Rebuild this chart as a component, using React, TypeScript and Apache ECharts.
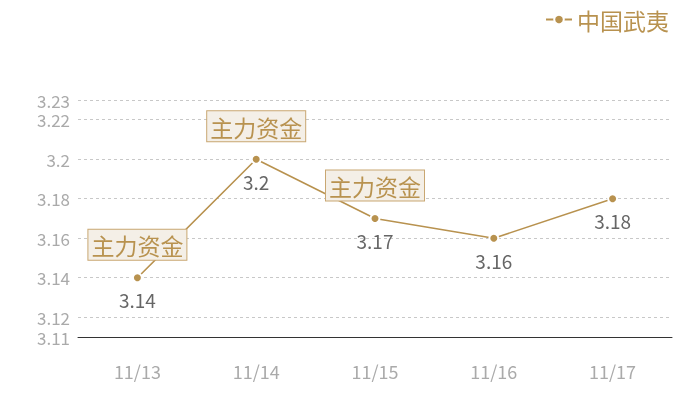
import { useEffect, useRef } from 'react';
import * as echarts from 'echarts';

const categories = ['11/13', '11/14', '11/15', '11/16', '11/17'];
const values = [3.14, 3.2, 3.17, 3.16, 3.18];
const seriesName = '中国武夷';
const markLabel = '主力资金';
const markIndexes = [0, 1, 2];
const yMin = 3.11;
const yMax = 3.23;

const gold = '#b8924f';

export default function App() {
  const chartRef = useRef<HTMLDivElement>(null);

  useEffect(() => {
    if (!chartRef.current) return;
    const chart = echarts.init(chartRef.current, undefined, { renderer: 'svg' });

    const option = {
      animation: false,
      textStyle: { fontFamily: '"Noto Sans CJK SC", "Noto Sans", sans-serif' },
      legend: {
        data: [seriesName],
        right: 26,
        top: 3,
        itemWidth: 26,
        itemHeight: 12,
        itemGap: 6,
        textStyle: { color: gold, fontSize: 23 },
      },
      grid: {
        left: 78,
        right: 28,
        top: 100,
        bottom: 63,
      },
      xAxis: {
        type: 'category',
        data: categories,
        axisLine: { lineStyle: { color: '#333', width: 1 } },
        axisTick: { show: false },
        axisLabel: { color: '#aaa', fontSize: 18, margin: 25 },
      },
      yAxis: {
        type: 'value',
        min: yMin,
        max: yMax,
        splitNumber: 5,
        axisLine: { show: false },
        axisTick: { show: false },
        axisLabel: { color: '#aaa', fontSize: 17, margin: 8 },
        splitLine: { lineStyle: { color: '#c8c8c8', type: [3, 3] } },
      },
      series: [
        {
          name: seriesName,
          type: 'line',
          data: values,
          symbol: 'circle',
          symbolSize: 9,
          itemStyle: { color: gold, borderColor: '#fff', borderWidth: 2 },
          lineStyle: { color: gold, width: 1.6 },
          label: {
            show: true,
            position: 'bottom',
            distance: 7,
            color: '#666',
            fontSize: 19,
          },
          markPoint: {
            symbol: 'circle',
            symbolSize: 0,
            data: markIndexes.map((i) => ({
              coord: [i, values[i]],
              value: markLabel,
            })),
            label: {
              show: true,
              position: 'top',
              distance: 18,
              formatter: markLabel,
              color: gold,
              fontSize: 23,
              backgroundColor: '#f4efe7',
              borderColor: '#c9a772',
              borderWidth: 1,
              padding: [4, 3, 3, 3],
            },
          },
        },
      ],
    };

    chart.setOption(option);
    return () => chart.dispose();
  }, []);

  return (
    <div
      ref={chartRef}
      style={{ position: 'fixed', left: 0, top: 0, width: 700, height: 400 }}
    />
  );
}
